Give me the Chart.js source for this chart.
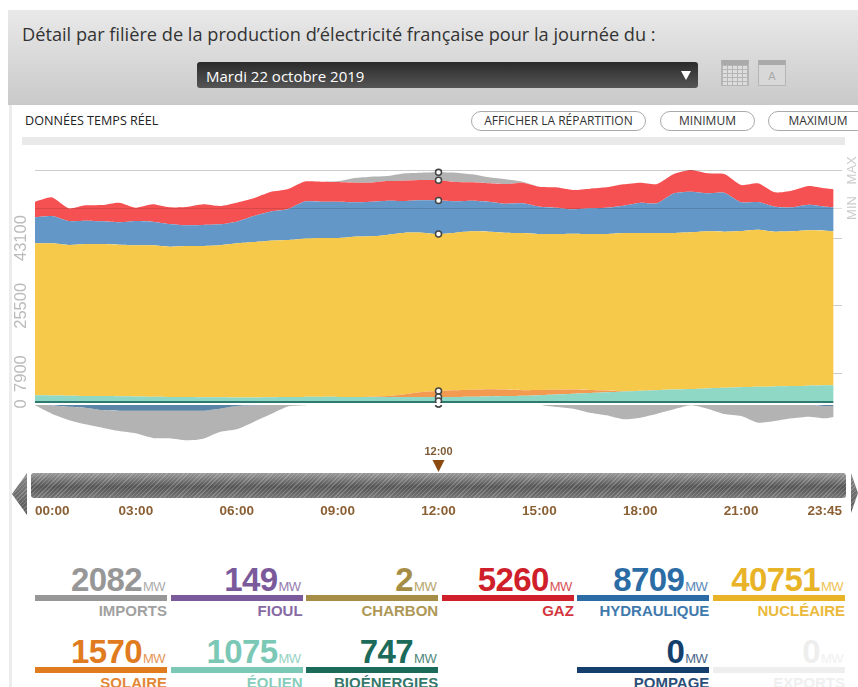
<!DOCTYPE html>
<html lang="fr">
<head>
<meta charset="utf-8">
<title>Production d'électricité</title>
<script src="https://cdn.jsdelivr.net/npm/chart.js@4"></script>
<style>
	html, body { margin: 0; padding: 0; background: #fff; overflow: hidden; }
	#page { position: relative; width: 858px; height: 687px; overflow: hidden; font-family: "Liberation Sans", Arial, sans-serif; }
	#page > * { position: absolute; }
	#head { left: 8px; top: 10px; width: 850px; height: 95px; background: linear-gradient(#e9e9e9, #c9c9c9); }
	#title { left: 22px; top: 22px; font: 18.2px "Open Sans", sans-serif; color: #333; white-space: nowrap; }
	#select { left: 197px; top: 62px; width: 501px; height: 26px; border-radius: 3px; background: linear-gradient(#2b2b2b, #555); color: #fff; font: 15px "Open Sans", sans-serif; line-height: 28px; text-indent: 9px; }
	#arrow { left: 681px; top: 71px; width: 0; height: 0; border: 5px solid transparent; border-top: 9px solid #fff; border-bottom: 0; }
	.cal { top: 60px; height: 26px; border: 1px solid #b5b5b5; border-top: 5px solid #aaa; box-sizing: border-box; color: #aaa; font-size: 11px; text-align: center; line-height: 22px; }
	#cal1 { left: 721px; width: 28px; background: repeating-linear-gradient(#b5b5b5 0 1px, transparent 1px 4px), repeating-linear-gradient(90deg, #b5b5b5 0 1px, #ddd 1px 5px); }
	#cal2 { left: 758px; width: 28px; background: #d8d8d8; }
	#rt { left: 25px; top: 112px; font: 12.6px "Open Sans", sans-serif; color: #222; white-space: nowrap; }
	.btn { top: 111px; height: 20px; box-sizing: border-box; border: 1px solid #aaa; border-radius: 10px; background: #fff; text-align: center; font: 12px/18px "Open Sans", sans-serif; color: #333; white-space: nowrap; }
	#rule { left: 22px; top: 137px; width: 823px; height: 8px; background: #e9e9e9; }
	#side { left: 9px; top: 105px; width: 3px; height: 582px; background: #ececec; }
	#slider { left: 31px; top: 473px; width: 815px; height: 25px; border-radius: 3px; background: repeating-linear-gradient(135deg, rgba(255,255,255,.2) 0 1px, transparent 1px 3px), linear-gradient(#999, #555 55%, #777); }
	#left, #right { top: 473px; width: 15px; height: 42px; background: repeating-linear-gradient(135deg, rgba(255,255,255,.2) 0 1px, transparent 1px 3px), linear-gradient(#888, #555); }
	#left { left: 12px; clip-path: polygon(100% 0, 100% 100%, 0 50%); }
	#right { left: 851px; width: 7px; height: 40px; clip-path: polygon(0 0, 0 100%, 100% 50%); }
	#chart { left: 0; top: 0; }
	.num { text-align: right; font-weight: bold; font-size: 33px; letter-spacing: -.6px; white-space: nowrap; }
	.num small { font-size: 13px; font-weight: normal; letter-spacing: -.5px; margin-left: 1px; opacity: .8; }
	.bar { height: 6px; }
	.name { text-align: right; font-weight: bold; font-size: 15px; white-space: nowrap; opacity: .9; }
</style>
</head>
<body>
<div id="page">
	<div id="head"></div>
	<div id="title">Détail par filière de la production d’électricité française pour la journée du :</div>
	<div id="select">Mardi 22 octobre 2019</div>
	<div id="arrow"></div>
	<div id="cal1" class="cal"></div>
	<div id="cal2" class="cal">A</div>
	<div id="rt">DONNÉES TEMPS RÉEL</div>
	<div class="btn" style="left:471px;width:175px">AFFICHER LA RÉPARTITION</div>
	<div class="btn" style="left:660px;width:95px">MINIMUM</div>
	<div class="btn" style="left:768px;width:100px">MAXIMUM</div>
	<div id="rule"></div>
	<div id="side"></div>
	<div id="left"></div>
	<div id="slider"></div>
	<div id="right"></div>
	<canvas id="chart" width="858" height="530"></canvas>
</div>
<script>
// data, minutes since midnight, every 30 min, last sample 23:45

const times = [0, 30, 60, 90, 120, 150, 180, 210, 240, 270, 300, 330, 360, 390, 420, 450, 480, 510, 540, 570, 600, 630, 660, 690, 720, 750, 780, 810, 840, 870, 900, 930, 960, 990, 1020, 1050, 1080, 1110, 1140, 1170, 1200, 1230, 1260, 1290, 1320, 1350, 1380, 1410, 1425]

const bio = [750, 750, 750, 750, 750, 750, 750, 750, 750, 750, 750, 750, 750, 750, 750, 750, 750, 750, 750, 750, 750, 750, 750, 750, 747, 750, 750, 750, 750, 750, 750, 750, 750, 750, 750, 750, 750, 750, 750, 750, 750, 750, 750, 750, 750, 750, 750, 750, 750]
const eolien = [1500, 1450, 1400, 1350, 1300, 1250, 1200, 1150, 1100, 1050, 1000, 1000, 950, 950, 1000, 1050, 1100, 1100, 1100, 1050, 1050, 1050, 1050, 1075, 1075, 1100, 1150, 1200, 1300, 1400, 1550, 1700, 1900, 2100, 2300, 2500, 2700, 2850, 3000, 3150, 3300, 3450, 3600, 3700, 3800, 3900, 4000, 4100, 4150]
const solaire = [0, 0, 0, 0, 0, 0, 0, 0, 0, 0, 0, 0, 0, 0, 0, 0, 0, 0, 0, 0, 100, 300, 750, 1300, 1570, 1700, 1800, 1900, 1700, 1450, 1350, 1250, 1100, 800, 450, 100, 0, 0, 0, 0, 0, 0, 0, 0, 0, 0, 0, 0, 0]
const nucleaire = [39477, 39527, 39144, 39454, 39504, 39381, 39257, 39307, 39011, 39234, 39284, 39457, 40027, 40373, 40670, 40793, 41089, 41262, 41262, 41659, 41646, 41879, 41948, 41373, 40751, 40948, 41145, 40908, 40748, 40812, 40502, 40452, 40488, 40502, 40652, 41062, 40962, 40812, 40662, 40685, 40795, 40558, 40582, 40827, 40208, 40195, 40354, 40168, 39945]
const hydraulique = [6755, 7100, 6235, 6062, 5889, 5802, 6322, 6149, 5889, 5369, 5456, 5456, 5629, 6755, 7534, 7967, 9613, 9439, 9439, 8920, 9006, 8833, 8227, 8400, 8709, 8140, 7967, 7794, 7534, 7707, 7101, 6841, 6322, 6668, 6841, 7101, 7881, 7707, 10305, 10565, 9872, 10132, 7448, 7188, 6495, 6235, 6668, 6235, 6235]
const gaz = [4070, 4850, 3291, 3984, 4243, 5109, 3464, 4503, 4330, 4763, 5369, 4763, 4936, 4590, 5109, 5196, 5196, 5196, 5109, 5109, 4936, 5109, 5283, 5283, 5260, 5023, 4763, 4763, 5109, 5369, 5196, 5283, 5023, 5109, 5283, 5542, 5196, 5023, 5023, 5629, 5196, 4850, 4503, 4850, 3724, 4330, 4850, 4763, 4676]
const imports = [0, 0, 0, 0, 0, 0, 0, 0, 0, 0, 0, 0, 0, 0, 0, 0, 0, 0, 200, 1212, 1559, 1299, 1905, 1905, 2082, 2425, 2078, 1559, 1212, 260, 0, 0, 0, 0, 0, 0, 0, 0, 0, 0, 0, 0, 0, 0, 0, 0, 0, 0, 0]
const pompage = [0, -350, -700, -950, -1560, -1730, -1730, -1730, -1730, -1730, -1730, -1210, -520, -350, -170, -170, -100, 0, 0, 0, 0, 0, 0, 0, 0, 0, 0, 0, 0, 0, 0, 0, 0, 0, 0, 0, 0, 0, 0, 0, 0, 0, 0, 0, 0, 0, -170, -500, -500]
const exportsMw = [-346, -2161, -3456, -4332, -4588, -5285, -5891, -7103, -7190, -7709, -7276, -6064, -6061, -4327, -2515, -523, -246, 0, 0, 0, 0, 0, 0, 0, 0, 0, 0, 0, -87, -173, -260, -779, -1212, -2252, -2944, -3984, -3550, -2511, -1386, -346, -1212, -2598, -3118, -4850, -4417, -3724, -3121, -3224, -2877]

const yTicks = [0, 7900, 25500, 43100]
const minMax = [0, 50900, 60700]
const xTicks = [0, 180, 360, 540, 720, 900, 1080, 1260, 1440]
const xLabels = ["00:00", "03:00", "06:00", "09:00", "12:00", "15:00", "18:00", "21:00", "23:45"]
const cursorIndex = 24
const cursorLabel = "12:00"

// figures under the chart

const cardNames = ["IMPORTS", "FIOUL", "CHARBON", "GAZ", "HYDRAULIQUE", "NUCLÉAIRE", "SOLAIRE", "ÉOLIEN", "BIOÉNERGIES", "", "POMPAGE", "EXPORTS"]
const cardValues = [2082, 149, 2, 5260, 8709, 40751, 1570, 1075, 747, null, 0, 0]
const cardColors = ["#979797", "#7b5a9b", "#a68d45", "#cf1f2b", "#2c6ca5", "#e9b328", "#e07b1f", "#7ac8b5", "#1b6a5a", "", "#143e6b", "#eeeeee"]

const page = document.querySelector("#page")

const addBlock = (className, style, html) => {
	const el = document.createElement("div")
	el.className = className
	el.style.cssText = style
	el.innerHTML = html
	page.appendChild(el)
}

cardNames.forEach((name, i) => {
	if (!name) return
	const left = 35 + (i % 6) * 135.6
	const top = i < 6 ? 595 : 667
	const color = cardColors[i]
	addBlock("num", `left:${left}px;width:130px;top:${top - 34}px;color:${color}`, `${cardValues[i]}<small>MW</small>`)
	addBlock("bar", `left:${left}px;width:132px;top:${top}px;background:${color}`, "")
	addBlock("name", `left:${left}px;width:132px;top:${top + 7}px;color:${color}`, name)
})

// chart

const series = (label, values, color, stack, fill) => ({
	label: label,
	data: times.map((t, i) => ({ x: t, y: values[i] })),
	backgroundColor: color,
	borderWidth: 0,
	tension: 0.2,
	stack: stack,
	fill: fill,
	pointRadius: ctx => (ctx.dataIndex === cursorIndex ? 3 : 0),
	pointBackgroundColor: "#fff",
	pointBorderColor: "#444",
	pointBorderWidth: 1.5,
})

const cursorMark = {
	id: "cursorMark",
	afterDraw(chart) {
		const ctx = chart.ctx
		const x = chart.scales.x.getPixelForValue(times[cursorIndex])
		ctx.save()
		ctx.fillStyle = "#8b4a10"
		ctx.beginPath()
		ctx.moveTo(x - 6, 460)
		ctx.lineTo(x + 6, 460)
		ctx.lineTo(x, 472)
		ctx.closePath()
		ctx.fill()
		ctx.font = "bold 11px 'Liberation Sans'"
		ctx.textAlign = "center"
		ctx.fillStyle = "#7d5a35"
		ctx.fillText(cursorLabel, x, 455)
		ctx.restore()
	},
}

new Chart(document.querySelector("#chart"), {
	type: "line",
	data: {
		datasets: [
			series("Bioénergies", bio, "#2f7a70", "prod", "origin"),
			series("Éolien", eolien, "#90d8c6", "prod", "-1"),
			series("Solaire", solaire, "#f29a50", "prod", "-1"),
			series("Nucléaire", nucleaire, "#f7c94b", "prod", "-1"),
			series("Hydraulique", hydraulique, "#6297c8", "prod", "-1"),
			series("Gaz", gaz, "#f65152", "prod", "-1"),
			series("Imports", imports, "#b3b3b3", "prod", "-1"),
			series("Pompage", pompage, "#5a85a6", "conso", "origin"),
			series("Exports", exportsMw, "#b3b3b3", "conso", "-1"),
		],
	},
	plugins: [cursorMark],
	options: {
		responsive: false,
		animation: false,
		layout: { padding: { top: 150 } },
		plugins: {
			legend: { display: false },
			tooltip: { enabled: false },
		},
		scales: {
			x: {
				type: "linear",
				min: 0,
				max: 1440,
				grid: { display: false },
				border: { display: false },
				afterBuildTicks: scale => {
					scale.ticks = xTicks.map(value => ({ value: value }))
				},
				afterFit: scale => {
					scale.height = 32
				},
				ticks: {
					autoSkip: false,
					maxRotation: 0,
					align: "inner",
					padding: -3,
					color: "#8a5f33",
					font: { family: "Liberation Sans", size: 13.5, weight: "bold" },
					callback: (value, index) => xLabels[index],
				},
			},
			y: {
				stacked: true,
				min: -24416,
				max: 65974,
				border: { display: false },
				grid: { color: "rgba(0,0,0,.2)", drawTicks: false },
				afterBuildTicks: scale => {
					scale.ticks = yTicks.map(value => ({ value: value }))
				},
				afterFit: scale => {
					scale.width = 35
				},
				ticks: {
					autoSkip: false,
					minRotation: 90,
					maxRotation: 90,
					crossAlign: "center",
					padding: -9,
					color: "#bbb",
					font: { family: "Liberation Sans", size: 16.5 },
					callback: value => String(value),
				},
			},
			y1: {
				position: "right",
				min: -24416,
				max: 65974,
				border: { display: false },
				grid: {
					z: 1,
					drawTicks: false,
					color: ctx => (ctx.tick.value === 0 ? "#fff" : ctx.index === 2 ? "rgba(0,0,0,.2)" : "rgba(0,0,0,.12)"),
					lineWidth: ctx => (ctx.tick.value === 0 ? 2 : 1),
				},
				afterBuildTicks: scale => {
					scale.ticks = minMax.map(value => ({ value: value }))
				},
				afterFit: scale => {
					scale.width = 16
				},
				ticks: {
					autoSkip: false,
					minRotation: 90,
					maxRotation: 90,
					crossAlign: "center",
					padding: -4,
					color: "#ccc",
					font: { family: "Liberation Sans", size: 13 },
					callback: (value, index) => ["", "MIN", "MAX"][index],
				},
			},
		},
	},
})
</script>
</body>
</html>
